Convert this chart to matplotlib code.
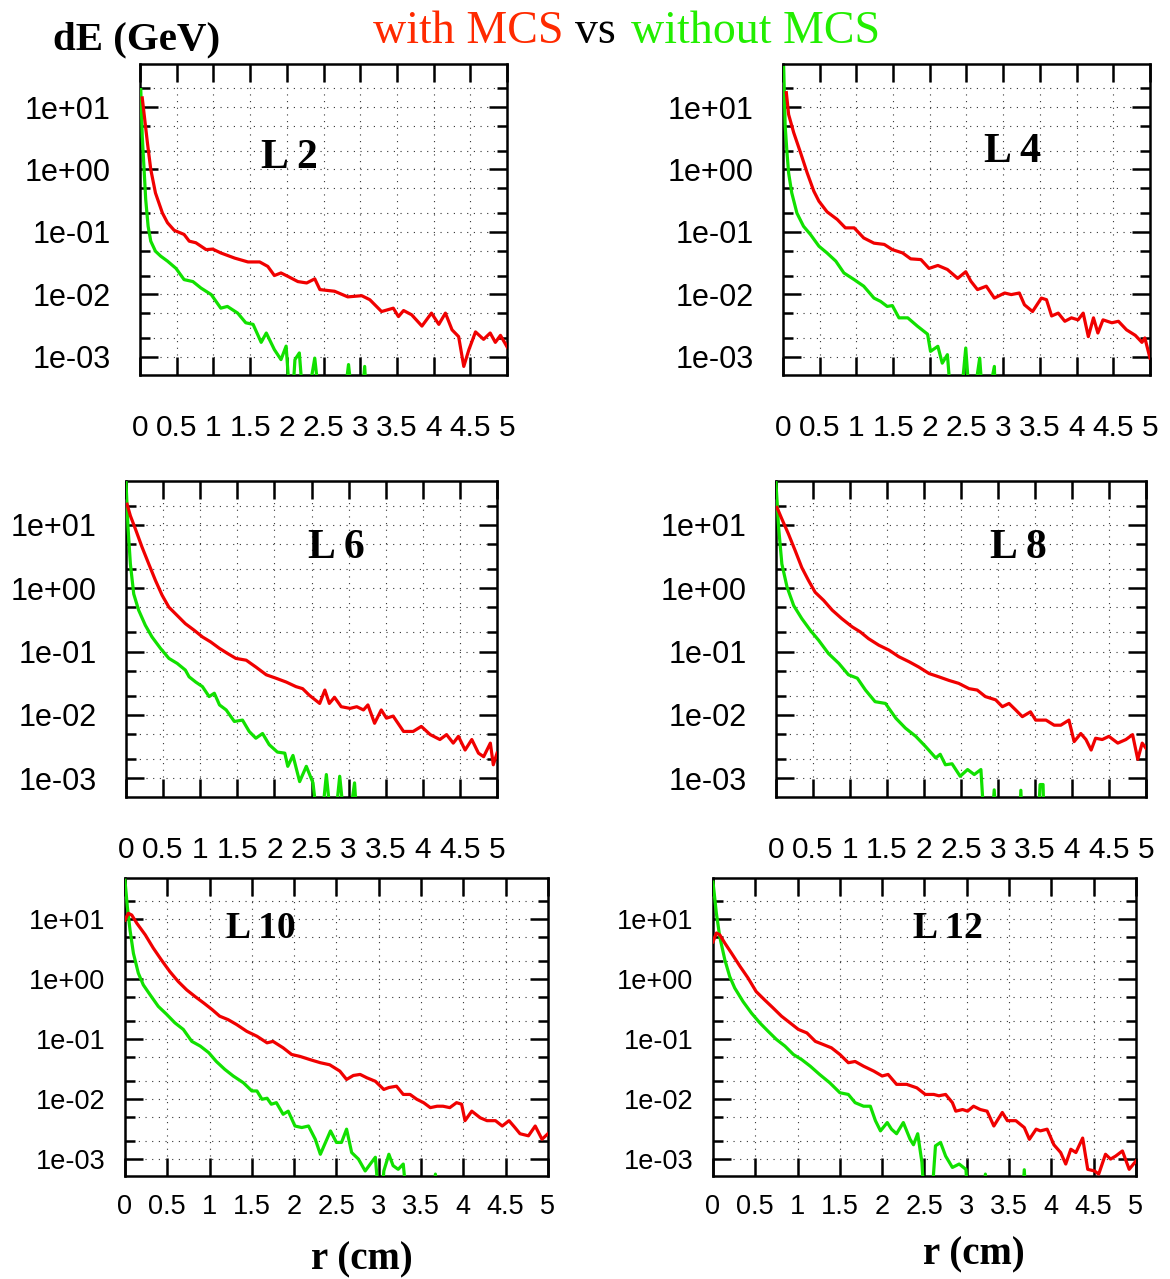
import numpy as np
import matplotlib
matplotlib.use("Agg")
import matplotlib.pyplot as plt
from matplotlib.ticker import LogLocator, NullFormatter, FixedLocator

nan = np.nan
LOW = 1e-4  # value below the visible range (curve leaves the box)

# ---- L 2 ----
l2_r_mcs = [0.03, 0.064, 0.10, 0.146, 0.21, 0.305, 0.374, 0.465, 0.60, 0.67, 0.76, 0.90, 0.99, 1.10, 1.29,
            1.47, 1.63, 1.74, 1.83, 1.92, 2.01, 2.15, 2.27, 2.38, 2.45, 2.65, 2.83, 3.02, 3.13, 3.29, 3.45,
            3.52, 3.59, 3.70, 3.84, 3.97, 4.07, 4.16, 4.25, 4.34, 4.41, 4.48, 4.57, 4.68, 4.77, 4.84, 4.91, 5.0]
l2_de_mcs = [14, 6.3, 2.7, 1.0, 0.42, 0.20, 0.14, 0.106, 0.091, 0.071, 0.067, 0.052, 0.053, 0.046, 0.038,
             0.033, 0.033, 0.028, 0.020, 0.022, 0.0195, 0.016, 0.0152, 0.0177, 0.0119, 0.0112, 0.0091, 0.0095,
             0.0082, 0.0053, 0.0060, 0.0044, 0.0055, 0.0047, 0.0031, 0.0050, 0.0033, 0.0050, 0.0027, 0.0021,
             0.00070, 0.0013, 0.0025, 0.0019, 0.0024, 0.0017, 0.0022, 0.00144]
l2_r_nomcs = [0.01, 0.03, 0.055, 0.077, 0.11, 0.146, 0.21, 0.28, 0.374, 0.49, 0.60, 0.72, 0.83, 0.97, 1.10,
              1.19, 1.33, 1.44, 1.54, 1.65, 1.72, 1.83, 1.92, 1.99, 2.06, 2.11, 2.17, 2.24, 2.38, 2.47, 2.55,
              2.75, 2.84, 2.92, nan, 3.0, 3.06, 3.1]
l2_de_nomcs = [19, 3.4, 1.0, 0.33, 0.123, 0.071, 0.049, 0.041, 0.034, 0.026, 0.0172, 0.016, 0.0126, 0.0099,
               0.0060, 0.0064, 0.0050, 0.0035, 0.0033, 0.0017, 0.0024, 0.0013, 0.00090, 0.00148, LOW, 0.0009,
               0.00115, LOW, 0.00095, LOW, LOW, LOW, 0.00075, LOW, nan, LOW, 0.0007, LOW]

# ---- L 4 ----
l4_r_mcs = [0.046, 0.077, 0.146, 0.24, 0.33, 0.42, 0.49, 0.60, 0.74, 0.85, 0.97, 1.10, 1.24, 1.38, 1.49,
            1.63, 1.74, 1.88, 1.99, 2.11, 2.24, 2.38, 2.49, 2.56, 2.65, 2.77, 2.88, 3.02, 3.11, 3.22, 3.29,
            3.40, 3.52, 3.59, 3.66, 3.75, 3.84, 3.93, 4.02, 4.09, 4.16, 4.23, 4.29, 4.36, 4.48, 4.57, 4.68,
            4.80, 4.89, 4.93, 5.0]
l4_de_mcs = [17, 7.6, 3.9, 1.85, 0.88, 0.45, 0.31, 0.21, 0.158, 0.116, 0.116, 0.080, 0.066, 0.063, 0.052,
             0.046, 0.037, 0.036, 0.026, 0.029, 0.025, 0.018, 0.023, 0.0162, 0.0119, 0.0135, 0.0087, 0.0105,
             0.0099, 0.0105, 0.0068, 0.0053, 0.0087, 0.0082, 0.0045, 0.0050, 0.0037, 0.0042, 0.0039, 0.0050,
             0.0021, 0.0042, 0.0024, 0.0039, 0.0035, 0.0037, 0.0027, 0.0022, 0.0017, 0.0020, 0.00095]
l4_r_nomcs = [0.01, 0.03, 0.055, 0.077, 0.12, 0.19, 0.28, 0.374, 0.49, 0.60, 0.72, 0.83, 0.97, 1.10, 1.24,
              1.33, 1.42, 1.49, 1.58, 1.70, 1.83, 1.97, 2.01, 2.11, 2.17, 2.24, 2.31, 2.40, 2.49, 2.56, 2.68,
              2.74, 2.88, 2.90]
l4_de_nomcs = [43, 5.0, 1.85, 0.88, 0.42, 0.20, 0.123, 0.091, 0.059, 0.046, 0.034, 0.022, 0.0172, 0.0135,
               0.0087, 0.0077, 0.0064, 0.0066, 0.0042, 0.0042, 0.0031, 0.0023, 0.00122, 0.00147, 0.00079,
               0.00108, LOW, LOW, 0.00138, LOW, 0.00095, LOW, 0.0007, LOW]

# ---- L 6 ----
l6_r_mcs = [0.014, 0.059, 0.126, 0.217, 0.307, 0.397, 0.487, 0.578, 0.69, 0.80, 0.92, 1.03, 1.14, 1.26,
            1.37, 1.48, 1.62, 1.75, 1.89, 2.02, 2.16, 2.29, 2.38, 2.47, 2.61, 2.68, 2.74, 2.81, 2.90, 3.02,
            3.11, 3.20, 3.26, 3.35, 3.44, 3.51, 3.60, 3.74, 3.87, 3.98, 4.10, 4.23, 4.32, 4.41, 4.48, 4.57,
            4.66, 4.75, 4.82, 4.91, 4.95, 5.0]
l6_de_mcs = [21, 13.8, 8.6, 4.4, 2.4, 1.32, 0.77, 0.50, 0.37, 0.275, 0.216, 0.17, 0.142, 0.112, 0.093,
             0.078, 0.073, 0.057, 0.043, 0.038, 0.033, 0.028, 0.026, 0.0205, 0.0152, 0.0247, 0.0152, 0.019,
             0.0135, 0.0127, 0.0135, 0.012, 0.0144, 0.0074, 0.012, 0.0089, 0.0096, 0.0055, 0.0055, 0.0066,
             0.0049, 0.0041, 0.0049, 0.0036, 0.0046, 0.0028, 0.0041, 0.0025, 0.0022, 0.0036, 0.00164, 0.0025]
l6_r_nomcs = [0.0, 0.027, 0.059, 0.104, 0.17, 0.26, 0.35, 0.465, 0.578, 0.69, 0.80, 0.85, 0.94, 1.03, 1.12,
              1.19, 1.26, 1.35, 1.46, 1.57, 1.66, 1.75, 1.84, 1.93, 2.04, 2.14, 2.18, 2.25, 2.34, 2.43, 2.52,
              2.61, 2.70, 2.79, 2.88, 2.97, 3.08, 3.13]
l6_de_nomcs = [46, 9.1, 2.4, 0.81, 0.45, 0.26, 0.17, 0.112, 0.078, 0.065, 0.051, 0.040, 0.033, 0.028, 0.0195,
               0.022, 0.0144, 0.012, 0.0079, 0.0083, 0.0055, 0.0043, 0.0051, 0.0034, 0.0026, 0.0025, 0.00155,
               0.0023, 0.00089, 0.00155, 0.00085, LOW, 0.00115, LOW, 0.00108, LOW, 0.00085, LOW]

# ---- L 8 ----
l8_r_mcs = [0.014, 0.08, 0.17, 0.26, 0.35, 0.44, 0.53, 0.645, 0.76, 0.89, 1.03, 1.14, 1.25, 1.39, 1.53, 1.66,
            1.80, 1.93, 2.07, 2.20, 2.34, 2.47, 2.61, 2.72, 2.83, 2.97, 3.06, 3.15, 3.24, 3.33, 3.44, 3.51,
            3.65, 3.76, 3.85, 3.96, 4.03, 4.12, 4.19, 4.26, 4.32, 4.41, 4.50, 4.62, 4.73, 4.82, 4.89, 4.95, 5.0]
l8_de_mcs = [18.7, 12.3, 7.1, 3.9, 2.1, 1.32, 0.86, 0.64, 0.45, 0.33, 0.245, 0.204, 0.16, 0.126, 0.105,
             0.083, 0.069, 0.057, 0.045, 0.040, 0.035, 0.0315, 0.026, 0.0247, 0.0195, 0.0173, 0.0135, 0.0152,
             0.012, 0.0094, 0.0112, 0.0083, 0.0083, 0.0069, 0.0069, 0.0083, 0.0038, 0.0051, 0.0041, 0.0028,
             0.0043, 0.0041, 0.0046, 0.0036, 0.0041, 0.0049, 0.0020, 0.0036, 0.0030]
l8_r_nomcs = [0.0, 0.036, 0.08, 0.15, 0.24, 0.35, 0.465, 0.578, 0.71, 0.85, 0.98, 1.10, 1.21, 1.34, 1.48,
              1.62, 1.75, 1.89, 2.02, 2.16, 2.22, 2.29, 2.38, 2.49, 2.59, 2.68, 2.77, 2.83, 2.90, 2.95, 2.99,
              nan, 3.28, 3.31, 3.34, nan, 3.53, 3.57, 3.61, 3.63]
l8_de_nomcs = [46, 9.1, 2.4, 1.04, 0.53, 0.33, 0.216, 0.15, 0.093, 0.065, 0.043, 0.038, 0.0247, 0.0162,
               0.0152, 0.0089, 0.0062, 0.0046, 0.0032, 0.0021, 0.0024, 0.00164, 0.0017, 0.00108, 0.00138,
               0.00115, 0.00138, LOW, LOW, 0.00066, LOW, nan, LOW, 0.00065, LOW, nan, LOW, 0.0008, 0.0008, LOW]

# ---- L 10 ----
l10_r_mcs = [0.0, 0.04, 0.08, 0.14, 0.24, 0.335, 0.43, 0.53, 0.63, 0.73, 0.83, 0.93, 1.03, 1.12, 1.22, 1.32,
             1.44, 1.56, 1.68, 1.75, 1.87, 1.97, 2.07, 2.19, 2.31, 2.42, 2.54, 2.62, 2.70, 2.78, 2.86, 2.96,
             3.06, 3.12, 3.21, 3.29, 3.37, 3.45, 3.53, 3.61, 3.69, 3.76, 3.84, 3.92, 3.98, 4.02, 4.10, 4.20,
             4.28, 4.38, 4.46, 4.54, 4.61, 4.67, 4.77, 4.85, 4.93, 5.0]
l10_de_mcs = [9.7, 12.6, 11.8, 8.6, 5.5, 3.3, 2.1, 1.34, 0.91, 0.66, 0.51, 0.40, 0.31, 0.24, 0.21, 0.174,
              0.134, 0.111, 0.086, 0.091, 0.071, 0.055, 0.051, 0.045, 0.040, 0.037, 0.029, 0.021, 0.0245,
              0.0255, 0.0224, 0.0196, 0.0143, 0.0154, 0.0162, 0.0118, 0.0118, 0.0098, 0.0086, 0.0071, 0.0075,
              0.0075, 0.0071, 0.0086, 0.0081, 0.0043, 0.0062, 0.0048, 0.0043, 0.0043, 0.0035, 0.0043, 0.0033,
              0.0026, 0.0024, 0.0035, 0.0021, 0.0026]
l10_r_nomcs = [0.0, 0.028, 0.06, 0.10, 0.158, 0.217, 0.296, 0.394, 0.49, 0.59, 0.69, 0.79, 0.89, 0.99, 1.08,
               1.18, 1.28, 1.40, 1.50, 1.56, 1.62, 1.68, 1.73, 1.79, 1.87, 1.93, 2.01, 2.09, 2.17, 2.25, 2.31,
               2.43, 2.50, 2.56, 2.62, 2.68, 2.76, 2.84, 2.90, 2.96, 3.02, 3.06, 3.12, 3.17, 3.23, 3.29, 3.35,
               nan, 3.65, 3.67, 3.69]
l10_de_nomcs = [45, 16.3, 6.6, 2.7, 1.26, 0.80, 0.55, 0.35, 0.26, 0.186, 0.144, 0.091, 0.076, 0.059, 0.042,
                0.031, 0.024, 0.0185, 0.0135, 0.0135, 0.0098, 0.0102, 0.0081, 0.0086, 0.0055, 0.0062, 0.0035,
                0.0033, 0.0035, 0.0021, 0.00118, 0.0029, 0.00186, 0.00186, 0.0031, 0.00126, 0.00098, 0.00062,
                0.00081, 0.00105, LOW, 0.00062, 0.00118, 0.00076, 0.00066, 0.00081, LOW, nan, LOW, 0.00055, LOW]

# ---- L 12 ----
l12_r_mcs = [0.0, 0.04, 0.08, 0.14, 0.22, 0.32, 0.415, 0.51, 0.61, 0.71, 0.81, 0.91, 1.01, 1.11, 1.21, 1.30,
             1.40, 1.50, 1.60, 1.68, 1.78, 1.90, 2.00, 2.07, 2.17, 2.29, 2.41, 2.51, 2.61, 2.67, 2.75, 2.83,
             2.87, 2.95, 3.01, 3.08, 3.16, 3.24, 3.32, 3.42, 3.48, 3.58, 3.68, 3.74, 3.82, 3.87, 3.95, 4.03,
             4.11, 4.17, 4.23, 4.29, 4.37, 4.43, 4.51, 4.56, 4.64, 4.70, 4.76, 4.84, 4.92, 5.0]
l12_de_mcs = [4.2, 5.9, 5.5, 4.0, 2.7, 1.63, 1.04, 0.62, 0.45, 0.33, 0.24, 0.186, 0.144, 0.126, 0.091, 0.081,
              0.071, 0.055, 0.040, 0.042, 0.035, 0.029, 0.024, 0.0255, 0.0174, 0.0174, 0.0152, 0.0118, 0.0118,
              0.0112, 0.0118, 0.0086, 0.0062, 0.0066, 0.0062, 0.0075, 0.0066, 0.0062, 0.0035, 0.0059, 0.0043,
              0.0043, 0.0033, 0.0021, 0.0031, 0.0029, 0.0031, 0.0017, 0.00126, 0.00081, 0.00143, 0.00126,
              0.0022, 0.00066, 0.00062, 0.00055, 0.00118, 0.00098, 0.0011, 0.00134, 0.00066, 0.00091]
l12_r_nomcs = [0.0, 0.04, 0.08, 0.14, 0.198, 0.257, 0.356, 0.455, 0.553, 0.652, 0.75, 0.85, 0.95, 1.05, 1.15,
               1.26, 1.38, 1.50, 1.60, 1.68, 1.78, 1.86, 1.92, 1.98, 2.06, 2.11, 2.17, 2.25, 2.33, 2.37, 2.42,
               2.47, 2.51, 2.57, 2.63, 2.69, 2.75, 2.83, 2.91, 2.99, 3.03, nan, 3.20, 3.22, 3.24, nan, 3.64,
               3.68, 3.71]
l12_de_nomcs = [42, 12.6, 5.1, 2.1, 1.1, 0.71, 0.42, 0.27, 0.186, 0.134, 0.098, 0.076, 0.055, 0.045, 0.035,
                0.0255, 0.0185, 0.0126, 0.0118, 0.0086, 0.0075, 0.0075, 0.0043, 0.0029, 0.0040, 0.0031, 0.0026,
                0.0040, 0.0021, 0.0017, 0.0026, 0.00086, LOW, LOW, 0.00163, 0.00186, 0.0011, 0.00071, 0.00081,
                0.00066, LOW, nan, LOW, 0.00055, LOW, nan, LOW, 0.00065, LOW]

panels = [
    ("L 2", l2_r_mcs, l2_de_mcs, l2_r_nomcs, l2_de_nomcs),
    ("L 4", l4_r_mcs, l4_de_mcs, l4_r_nomcs, l4_de_nomcs),
    ("L 6", l6_r_mcs, l6_de_mcs, l6_r_nomcs, l6_de_nomcs),
    ("L 8", l8_r_mcs, l8_de_mcs, l8_r_nomcs, l8_de_nomcs),
    ("L 10", l10_r_mcs, l10_de_mcs, l10_r_nomcs, l10_de_nomcs),
    ("L 12", l12_r_mcs, l12_de_mcs, l12_r_nomcs, l12_de_nomcs),
]

x_ticks = [0, 0.5, 1, 1.5, 2, 2.5, 3, 3.5, 4, 4.5, 5]
x_ticklabels = ["0", "0.5", "1", "1.5", "2", "2.5", "3", "3.5", "4", "4.5", "5"]
y_ticks = [1e-3, 1e-2, 1e-1, 1e0, 1e1]
y_ticklabels = ["1e-03", "1e-02", "1e-01", "1e+00", "1e+01"]

# axes boxes in figure fractions [left, bottom, width, height]
boxes = [
    [0.1197, 0.7068, 0.3137, 0.2432],
    [0.6692, 0.7068, 0.3137, 0.2432],
    [0.1077, 0.3769, 0.3171, 0.2471],
    [0.6632, 0.3769, 0.3162, 0.2471],
    [0.1068, 0.0805, 0.3615, 0.2330],
    [0.6094, 0.0805, 0.3615, 0.2330],
]
# label positions in axes fraction
label_pos = [(0.406, 0.698), (0.625, 0.717), (0.568, 0.788), (0.654, 0.788), (0.322, 0.829), (0.555, 0.829)]

red = "#f00000"
green = "#11e000"

fig = plt.figure(figsize=(11.7, 12.79), dpi=100)

for i, (name, rm, dm, rn, dn) in enumerate(panels):
    ax = fig.add_axes(boxes[i])
    bottom_row = i >= 4
    ax.plot(rn, dn, color=green, lw=2.3, zorder=3)
    ax.plot(rm, dm, color=red, lw=2.3, zorder=4)
    ax.set_yscale("log")
    ax.set_xlim(0, 5)
    ax.set_ylim(5.1e-4, 49)

    ax.xaxis.set_major_locator(FixedLocator(x_ticks))
    ax.set_xticklabels(x_ticklabels)
    ax.yaxis.set_major_locator(FixedLocator(y_ticks))
    ax.set_yticklabels(y_ticklabels)
    ax.yaxis.set_minor_locator(LogLocator(base=10, subs=(2.0, 5.0)))
    ax.yaxis.set_minor_formatter(NullFormatter())

    xfs = 19.5 if bottom_row else 21.5
    yfs = 19.5 if bottom_row else 22
    ax.tick_params(axis="x", which="major", direction="in", top=True, bottom=True,
                   length=13, width=1.8, labelsize=xfs, pad=13 if bottom_row else 28)
    ax.tick_params(axis="y", which="major", direction="in", left=True, right=True,
                   length=13, width=1.8, labelsize=yfs, pad=14 if bottom_row else 21)
    ax.tick_params(axis="y", which="minor", direction="in", left=True, right=True,
                   length=7, width=1.8)
    for lab in ax.get_xticklabels() + ax.get_yticklabels():
        lab.set_family("Liberation Sans")

    ax.grid(True, which="both", axis="y", color="#333333", lw=0.8, linestyle=(0, (1, 5)))
    ax.grid(True, which="major", axis="x", color="#333333", lw=0.8, linestyle=(0, (1, 5)))
    for sp in ax.spines.values():
        sp.set_linewidth(1.8)

    ax.text(label_pos[i][0], label_pos[i][1], name, transform=ax.transAxes,
            ha="center", va="center", family="Liberation Serif", weight="bold",
            fontsize=27 if bottom_row else 30, zorder=5)

# header texts
fig.text(0.0453, 0.9617, "dE (GeV)", family="Liberation Serif", weight="bold",
         fontsize=29.5, ha="left", va="baseline")
fig.text(0.3188, 0.9664, "with MCS", family="Liberation Serif", color="#ff2a00",
         fontsize=33, ha="left", va="baseline")
fig.text(0.4915, 0.9664, "vs", family="Liberation Serif", color="black",
         fontsize=33, ha="left", va="baseline")
fig.text(0.5393, 0.9664, "without MCS", family="Liberation Serif", color="#22ee00",
         fontsize=33, ha="left", va="baseline")

fig.text(0.3094, 0.0149, "r (cm)", family="Liberation Serif", weight="bold",
         fontsize=28, ha="center", va="center")
fig.text(0.8325, 0.0188, "r (cm)", family="Liberation Serif", weight="bold",
         fontsize=28, ha="center", va="center")

fig.savefig("out.png", dpi=100)
